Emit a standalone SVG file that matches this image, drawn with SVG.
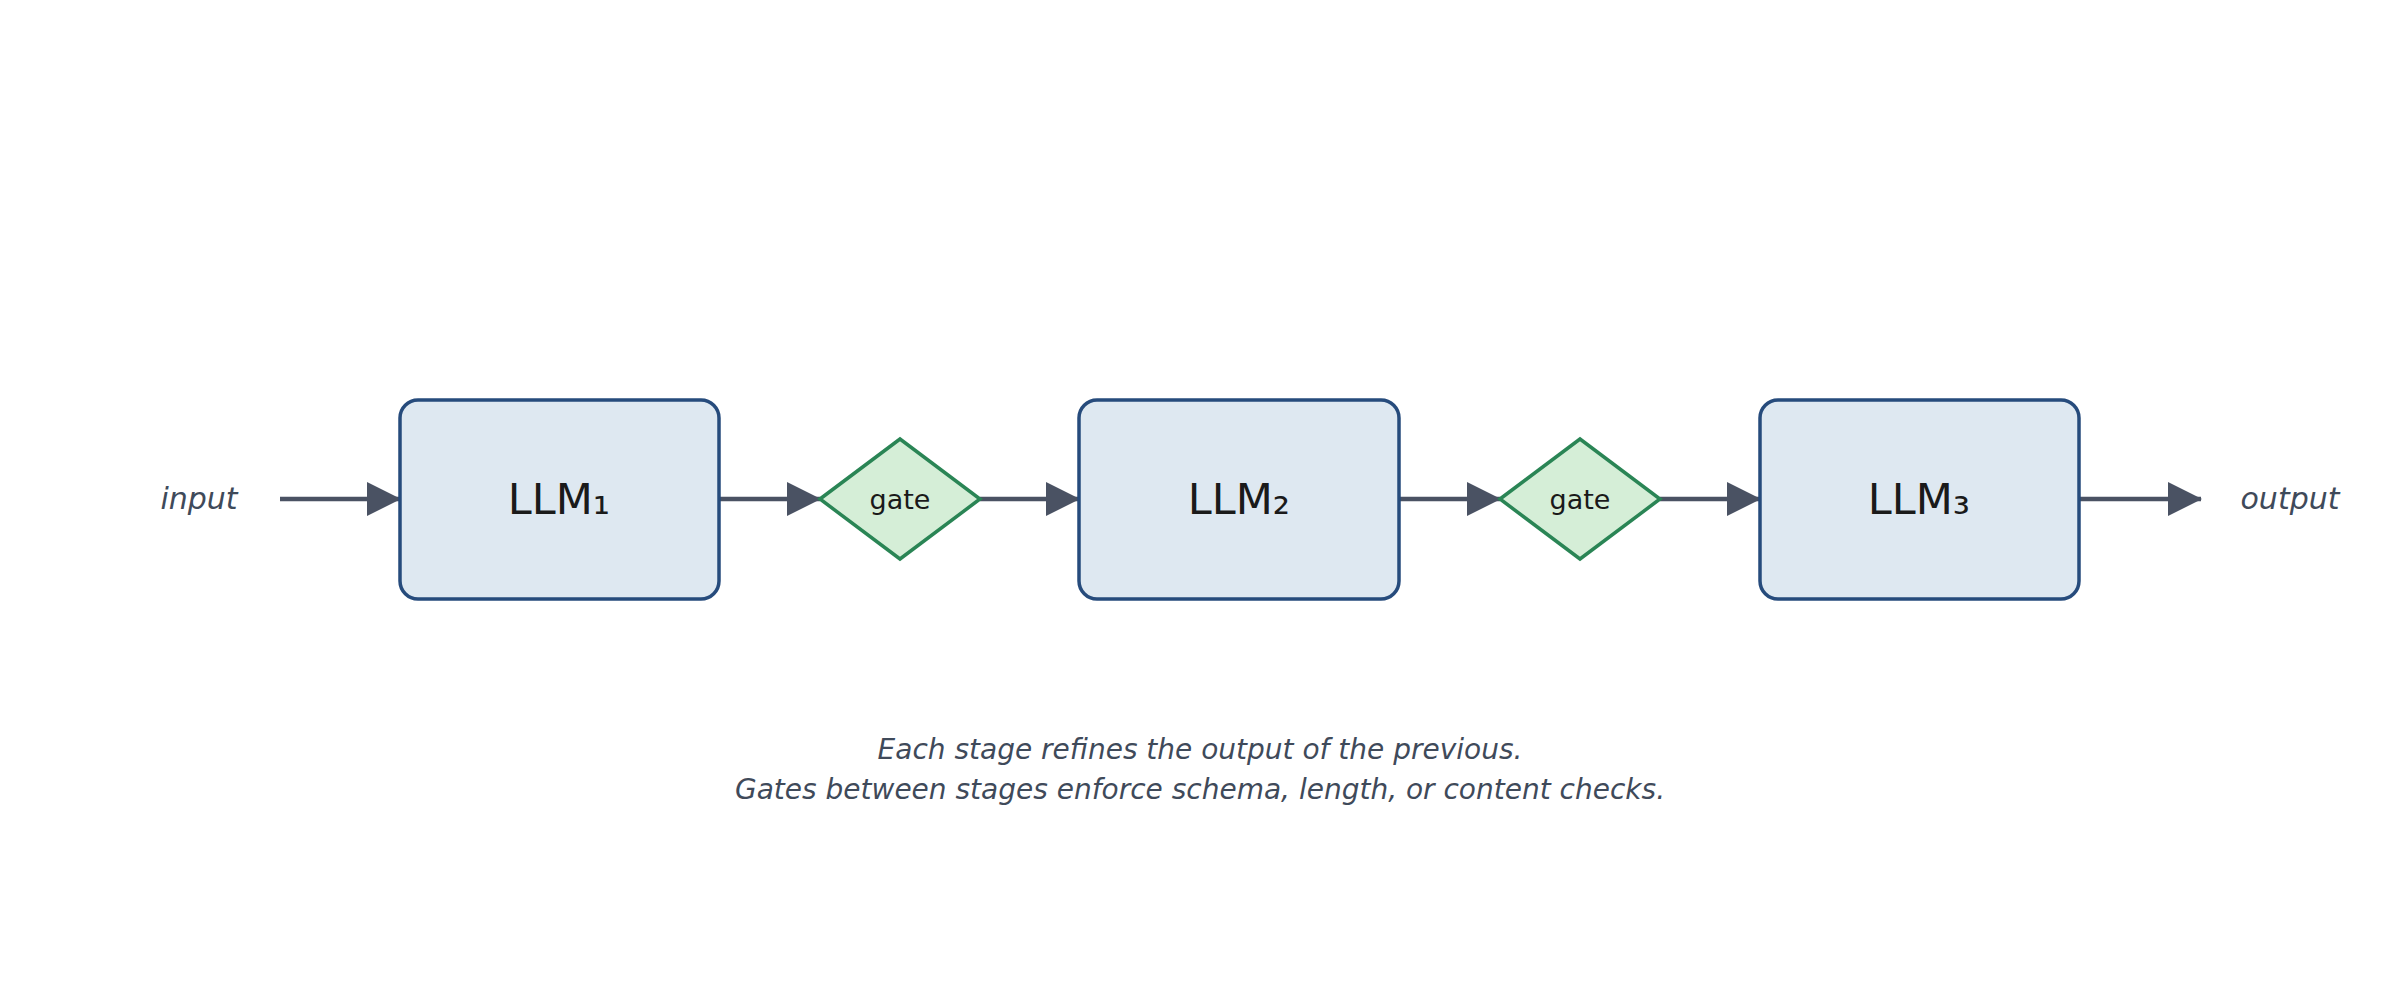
<svg xmlns="http://www.w3.org/2000/svg" width="2400" height="1000" viewBox="0 0 2400 1000">
<style>
.box{fill:#dee8f1;stroke:#264b7c;stroke-width:3.5}
.gate{fill:#d5eed7;stroke:#2a8555;stroke-width:3.5}
.lbl{font-family:"DejaVu Sans",sans-serif;fill:#1a1a1a;text-anchor:middle;dominant-baseline:central}
.it{font-family:"DejaVu Sans",sans-serif;font-style:italic;fill:#3f4a5a;text-anchor:middle}
.e{stroke:#4a5263;stroke-width:4.5;fill:none;marker-end:url(#a)}
</style>
<defs><marker id="a" markerUnits="userSpaceOnUse" markerWidth="34" markerHeight="34" refX="33" refY="17" orient="auto"><path d="M0,0L34,17L0,34Z" fill="#4a5263"/></marker></defs>
<rect width="2400" height="1000" fill="#fff"/>
<g id="connectors">
<path class="e" d="M280,499H400"/>
<path class="e" d="M719,499H820"/>
<path class="e" d="M980,499H1079"/>
<path class="e" d="M1399,499H1500"/>
<path class="e" d="M1660,499H1760"/>
<path class="e" d="M2079,499H2201"/>
</g>
<g id="input"><text class="it" x="199" y="509" font-size="30">input</text></g>
<g id="llm1"><rect class="box" x="400" y="400" width="319" height="199" rx="18"/><text class="lbl" x="559" y="499" font-size="43">LLM₁</text></g>
<g id="gate1"><path class="gate" d="M820,499L900,439L980,499L900,559Z"/><text class="lbl" x="900" y="499" font-size="27">gate</text></g>
<g id="llm2"><rect class="box" x="1079" y="400" width="320" height="199" rx="18"/><text class="lbl" x="1239" y="499" font-size="43">LLM₂</text></g>
<g id="gate2"><path class="gate" d="M1500,499L1580,439L1660,499L1580,559Z"/><text class="lbl" x="1580" y="499" font-size="27">gate</text></g>
<g id="llm3"><rect class="box" x="1760" y="400" width="319" height="199" rx="18"/><text class="lbl" x="1919" y="499" font-size="43">LLM₃</text></g>
<g id="output"><text class="it" x="2290" y="509" font-size="30">output</text></g>
<g id="caption">
<text class="it" x="1200" y="759" font-size="28">Each stage refines the output of the previous.</text>
<text class="it" x="1200" y="799" font-size="28">Gates between stages enforce schema, length, or content checks.</text>
</g>
</svg>
